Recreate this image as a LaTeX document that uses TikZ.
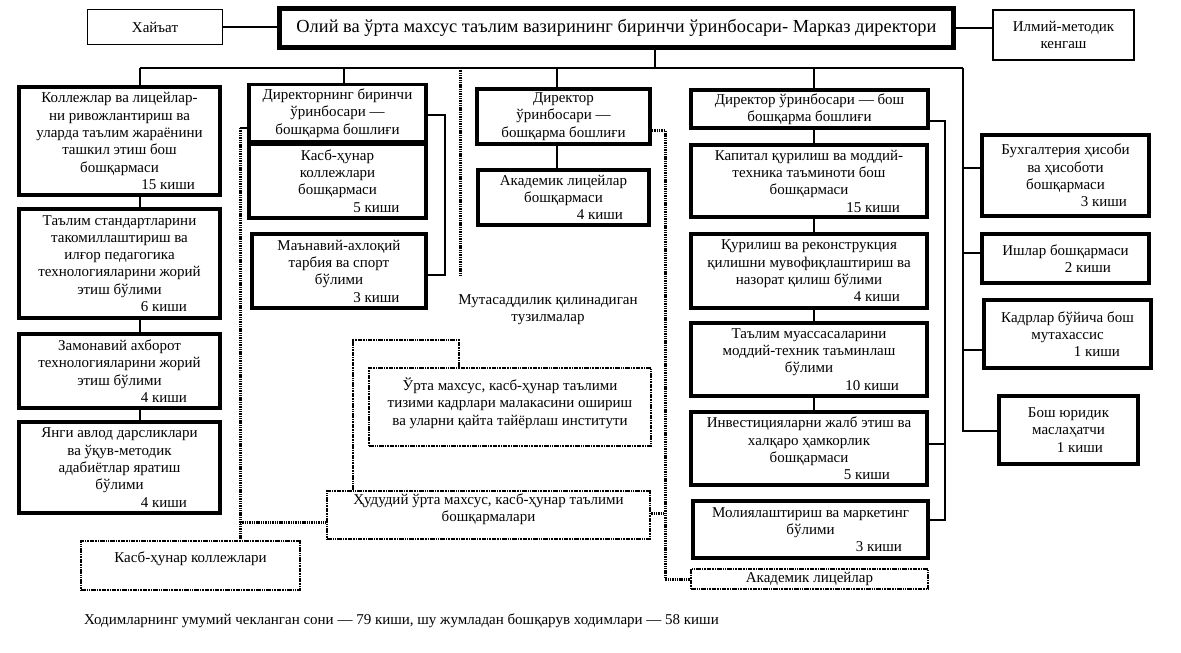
\documentclass[tikz,border=0pt]{standalone}
\usepackage{fontspec}
\setmainfont{Liberation Serif}
\usetikzlibrary{calc}
\newcommand\bfs{\fontsize{15}{17.3}\selectfont}
\newcommand\tfs{\fontsize{18.4}{21}\selectfont}
\newcommand\kline[2]{\makebox[0pt][l]{\hspace*{#1pt}\llap{#2}}}
\begin{document}
\begin{tikzpicture}[x=1pt,y=-1pt,
  every node/.style={inner sep=0pt},
  tb/.style={draw, line width=3.6pt, align=center, font=\bfs},
  nb/.style={draw, line width=1.8pt, align=center, font=\bfs},
  db/.style={draw, line width=2.6pt, dash pattern=on 4.5pt off 1pt on 1.4pt off 1pt on 1.4pt off 1pt},
  txt/.style={font=\bfs, align=center},
  cn/.style={line width=1.8pt},
  dl/.style={line width=3pt, dash pattern=on 1.4pt off 0.9pt},
  ddl/.style={line width=2.6pt, dash pattern=on 4.5pt off 1pt on 1.4pt off 1pt on 1.4pt off 1pt},
]
\useasboundingbox (0,0) rectangle (1181,653);

% top row
\node[nb, minimum width=135pt, minimum height=35pt] (hay) at (155,27) {Хайъат};
\node[tb, line width=4.6pt, minimum width=674pt, minimum height=39pt, font=\tfs] (main) at (616.5,28) {Олий ва ўрта махсус таълим вазирининг биринчи ўринбосари- Марказ директори};
\node[nb, minimum width=141pt, minimum height=50pt] (ilm) at (1063.5,35) {Илмий-методик\\кенгаш};
\draw[cn] (hay.east) -- (hay.east -| main.west);
\draw[cn] (main.east) -- (main.east -| ilm.west);

% left column
\node[tb, minimum width=201pt, minimum height=108pt] (b1) at (119.5,141) {Коллежлар ва лицейлар-\\ни ривожлантириш ва\\уларда таълим жараёнини\\ташкил этиш бош\\бошқармаси\\\kline{75.5}{15 киши}};
\node[tb, minimum width=201pt, minimum height=109pt] (b2) at (119.5,263.5) {Таълим стандартларини\\такомиллаштириш ва\\илғор педагогика\\технологияларини жорий\\этиш бўлими\\\kline{67.5}{6 киши}};
\node[tb, minimum width=201pt, minimum height=74pt] (b3) at (119.5,371) {Замонавий ахборот\\технологияларини жорий\\этиш бўлими\\\kline{67.5}{4 киши}};
\node[tb, minimum width=201pt, minimum height=91pt] (b4) at (119.5,467.5) {Янги авлод дарсликлари\\ва ўқув-методик\\адабиётлар яратиш\\бўлими\\\kline{67.5}{4 киши}};

% second column
\node[tb, minimum width=177.5pt, minimum height=57pt] (b5) at (337.5,113) {Директорнинг биринчи\\ўринбосари —\\бошқарма бошлиғи};
\node[tb, minimum width=177.5pt, minimum height=74.5pt] (b6) at (337.5,181) {Касб-ҳунар\\коллежлари\\бошқармаси\\\kline{62}{5 киши}};
\node[tb, minimum width=174.5pt, minimum height=74.5pt] (b7) at (339,271) {Маънавий-ахлоқий\\тарбия ва спорт\\бўлими\\\kline{60.5}{3 киши}};

% middle column
\node[tb, minimum width=173.5pt, minimum height=55.5pt] (b8) at (563.5,116.5) {Директор\\ўринбосари —\\бошқарма бошлиғи};
\node[tb, minimum width=171.5pt, minimum height=55.5pt] (b9) at (563.5,197.5) {Академик лицейлар\\бошқармаси\\\kline{59.5}{4 киши}};

% right-middle column
\node[tb, minimum width=237.5pt, minimum height=38.5pt] (b10) at (809.5,109) {Директор ўринбосари — бош\\бошқарма бошлиғи};
\node[tb, minimum width=236.5pt, minimum height=72.5pt] (b11) at (809,181) {Капитал қурилиш ва моддий-\\техника таъминоти бош\\бошқармаси\\\kline{91}{15 киши}};
\node[tb, minimum width=236.5pt, minimum height=74.5pt] (b12) at (809,271) {Қурилиш ва реконструкция\\қилишни мувофиқлаштириш ва\\назорат қилиш бўлими\\\kline{91}{4 киши}};
\node[tb, minimum width=236.5pt, minimum height=73.5pt] (b13) at (809,359.5) {Таълим муассасаларини\\моддий-техник таъминлаш\\бўлими\\\kline{90}{10 киши}};
\node[tb, minimum width=236.5pt, minimum height=73.5pt] (b14) at (809,448.5) {Инвестицияларни жалб этиш ва\\халқаро ҳамкорлик\\бошқармаси\\\kline{81}{5 киши}};
\node[tb, minimum width=235.5pt, minimum height=57.5pt] (b15) at (810.5,529.5) {Молиялаштириш ва маркетинг\\бўлими\\\kline{91.5}{3 киши}};

% far right column
\node[tb, minimum width=167.5pt, minimum height=81.5pt] (b16) at (1065.5,175.5) {Бухгалтерия ҳисоби\\ва ҳисоботи\\бошқармаси\\\kline{61.5}{3 киши}};
\node[tb, minimum width=167.5pt, minimum height=49.5pt] (b17) at (1065.5,258.5) {Ишлар бошқармаси\\\kline{45.5}{2 киши}};
\node[tb, minimum width=167.5pt, minimum height=68.5pt] (b18) at (1067.5,334) {Кадрлар бўйича бош\\мутахассис\\\kline{52.5}{1 киши}};
\node[tb, minimum width=139.5pt, minimum height=68.5pt] (b19) at (1068.5,430) {Бош юридик\\маслаҳатчи\\\kline{34.5}{1 киши}};

% supervised structures
\node[txt] (mut) at (548,310) {Мутасаддилик қилинадиган\\тузилмалар};
\node[db, minimum width=282pt, minimum height=78pt] (ins) at (510,407) {};
\node[txt] (inst) at (510,403) {Ўрта махсус, касб-ҳунар таълими\\тизими кадрлари малакасини ошириш\\ва уларни қайта тайёрлаш институти};
\node[db, minimum width=323pt, minimum height=48pt] (hud) at (488.5,515) {};
\node[txt] (hudt) at (488.5,509) {Ҳудудий ўрта махсус, касб-ҳунар таълими\\бошқармалари};
\node[db, minimum width=219pt, minimum height=49pt] (kk) at (190.5,565.5) {};
\node[txt] (kkt) at (190.5,559) {Касб-ҳунар коллежлари};
\node[db, minimum width=237pt, minimum height=20pt] (al) at (809.5,579) {};
\node[txt] (alt) at (809.5,579) {Академик лицейлар};

\node[txt] (tot) at (401.5,621) {Ходимларнинг умумий чекланган сони — 79 киши, шу жумладан бошқарув ходимлари — 58 киши};

% bus
\coordinate (tm) at (655,68);
\coordinate (t1) at (140,68);
\coordinate (t2) at (344,68);
\coordinate (t3) at (460,68);
\coordinate (t3e) at (460,277);
\coordinate (t4) at (557,68);
\coordinate (t5) at (814,68);
\coordinate (t6) at (963,68);
\draw[cn] (main.south -| tm) -- (tm);
\draw[cn] (t1) -- (t6);
% left chain
\draw[cn] (t1) -- (t1 |- b1.north);
\draw[cn] (b1.south -| t1) -- (t1 |- b2.north);
\draw[cn] (b2.south -| t1) -- (t1 |- b3.north);
\draw[cn] (b3.south -| t1) -- (t1 |- b4.north);
% second column
\draw[cn] (t2) -- (t2 |- b5.north);
\coordinate (l5) at (445,115);
\coordinate (l7) at (445,275);
\draw[cn] (l5 -| b5.east) -- (l5) -- (l7) -- (l7 -| b7.east);
% middle
\draw[cn] (t4) -- (t4 |- b8.north);
\draw[cn] (b8.south -| t4) -- (t4 |- b9.north);
% right-middle chain
\draw[cn] (t5) -- (t5 |- b10.north);
\draw[cn] (b10.south -| t5) -- (t5 |- b11.north);
\draw[cn] (b11.south -| t5) -- (t5 |- b12.north);
\draw[cn] (b12.south -| t5) -- (t5 |- b13.north);
\draw[cn] (b13.south -| t5) -- (t5 |- b14.north);
\coordinate (rb) at (945,121);
\coordinate (r14) at (945,444);
\coordinate (r15) at (945,520);
\draw[cn] (rb -| b10.east) -- (rb) -- (r15) -- (r15 -| b15.east);
\draw[cn] (r14) -- (r14 -| b14.east);
% far right
\coordinate (r16) at (963,168);
\coordinate (r17) at (963,253);
\coordinate (r18) at (963,350);
\coordinate (r19) at (963,431);
\draw[cn] (t6) -- (r19) -- (r19 -| b19.west);
\draw[cn] (r16) -- (r16 -| b16.west);
\draw[cn] (r17) -- (r17 -| b17.west);
\draw[cn] (r18) -- (r18 -| b18.west);

% dotted links
\draw[dl] (t3) -- (t3e);
\coordinate (d1) at (240,128);
\coordinate (d2) at (240,522);
\draw[cn] (d1) -- (d1 -| b5.west);
\draw[dl] (d1) -- (d1 |- kk.north);
\draw[dl] (d2) -- (d2 -| hud.west);
\coordinate (d3) at (665,130);
\coordinate (d4) at (665,579);
\coordinate (d5) at (665,513);
\draw[dl] (d3 -| b8.east) -- (d3) -- (d4) -- (d4 -| al.west);
\draw[dl] (d5 -| hud.east) -- (d5);
\coordinate (i1) at (459,340);
\coordinate (i2) at (353,340);
\draw[ddl] (i1 |- ins.north) -- (i1) -- (i2) -- (i2 |- hud.north);
\end{tikzpicture}
\end{document}
